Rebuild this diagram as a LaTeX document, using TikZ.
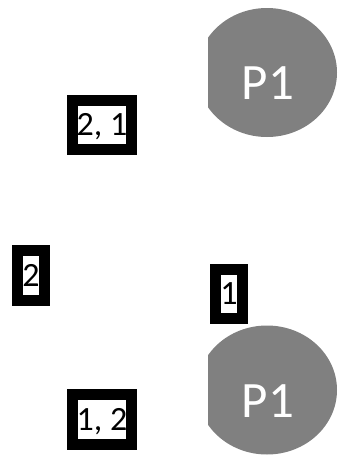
\documentclass[tikz,border=0pt]{standalone}
\usepackage{fontspec}
\setmainfont{Carlito}
\usetikzlibrary{shapes.geometric, positioning}
\tikzset{
    seqpic/.style={x=1pt, y=-1pt},
    tagbox/.style={draw=black, fill=white, line width=11pt, inner sep=0pt,
        text height=21.5pt, text depth=0pt, font=\fontsize{34}{34}\selectfont},
    proc/.style={ellipse, fill=black!50, inner sep=0pt,
        minimum width=140pt, minimum height=129pt},
    proclabel/.style={text=white, inner sep=0pt, font=\fontsize{51}{51}\selectfont},
}

\begin{document}
\begin{tikzpicture}[seqpic]
    \useasboundingbox (0,0) rectangle (342,461);

    % processes, cut off on the left
    \begin{scope}
        \clip (208,0) rectangle (342,461);
        \node[proc] (pa) at (267,72.5) {};
        \node[proc] (pb) at (267,390) {};
    \end{scope}
    \node[proclabel] (pa label) at ([xshift=1pt, yshift=-10.5pt]pa.center) {P1};
    \node[proclabel] (pb label) at ([xshift=1pt, yshift=-11pt]pb.center) {P1};

    % tags
    \node[tagbox, minimum width=59pt, minimum height=49pt] (tag21) at (102,125)   {2, 1};
    \node[tagbox, minimum width=27pt, minimum height=50pt] (tag2)  at (31,275.5)  {2};
    \node[tagbox, minimum width=27pt, minimum height=49pt] (tag1)  at (229,294)   {1};
    \node[tagbox, minimum width=59pt, minimum height=50pt] (tag12) at (102,419.5) {1, 2};
\end{tikzpicture}
\end{document}
